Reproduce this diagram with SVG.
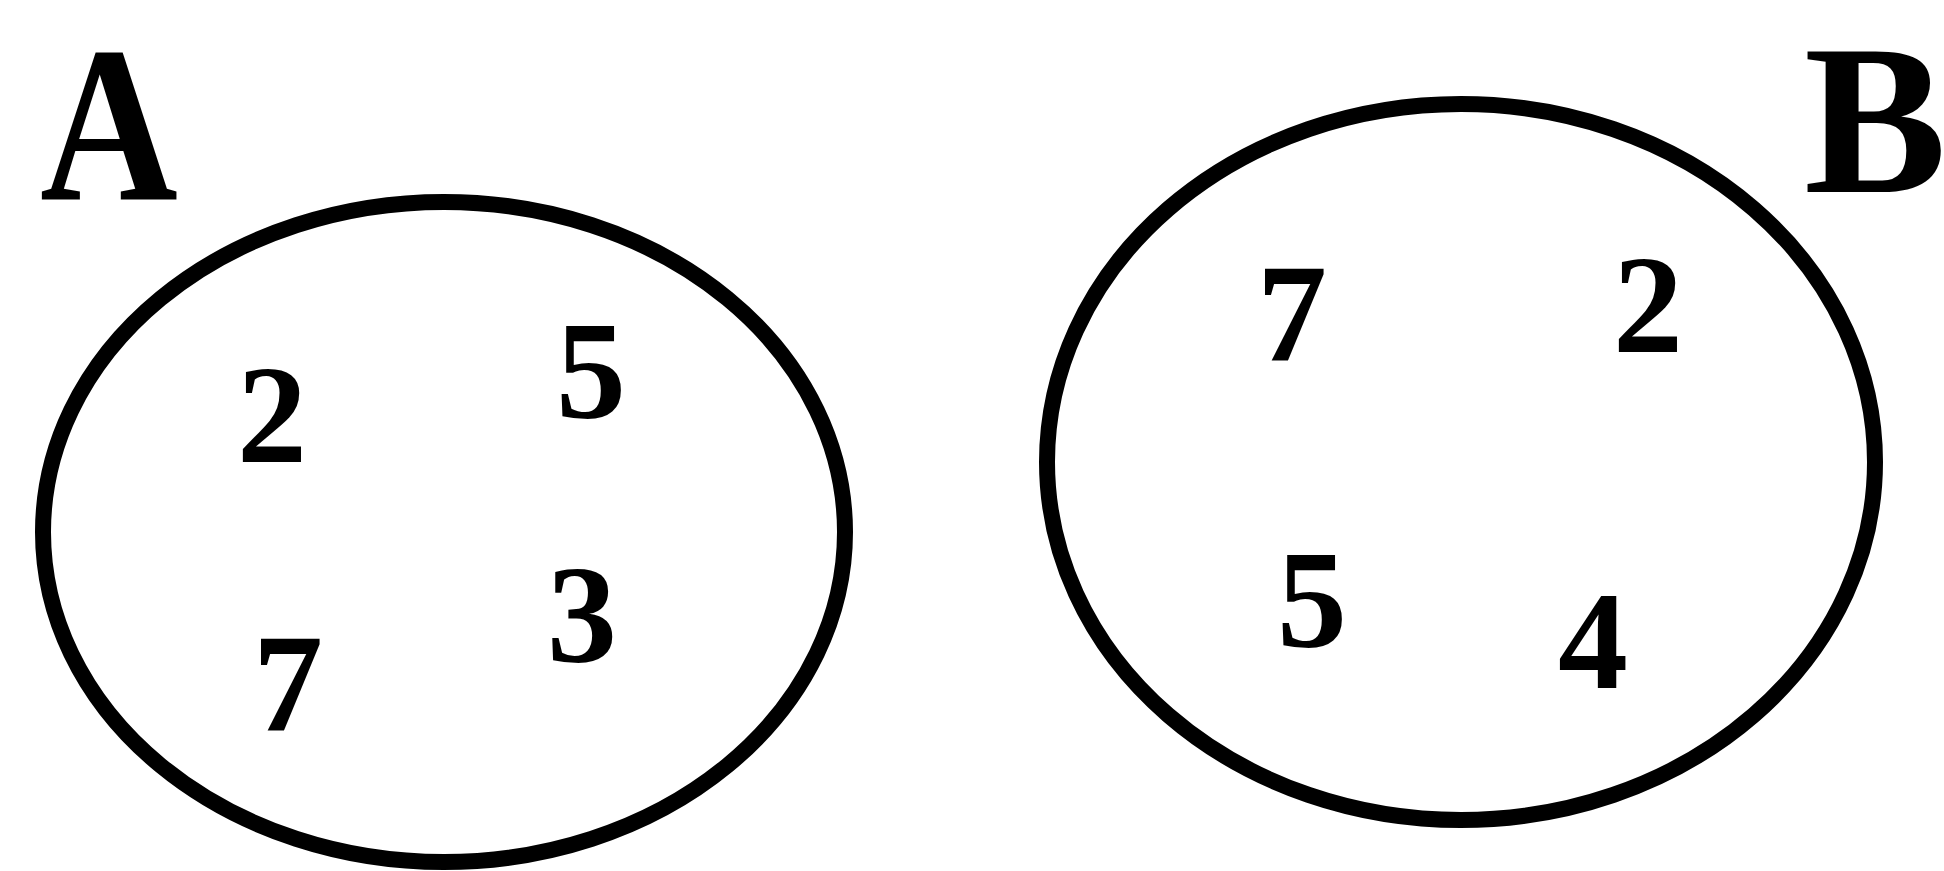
<svg xmlns="http://www.w3.org/2000/svg" width="1944" height="871" viewBox="0 0 1944 871">
<style>
.set{fill:none;stroke:#000;stroke-width:16}
.lbl{font-family:"Liberation Serif","Times New Roman",serif;font-weight:bold;fill:#000}
.num{font-family:"Liberation Serif","Times New Roman",serif;font-weight:bold;font-size:140px;fill:#000;text-anchor:middle}
</style>
<rect width="1944" height="871" fill="#fff"/>
<g id="setA">
<ellipse class="set" cx="444" cy="532" rx="401" ry="330"/>
<text class="lbl" font-size="222" transform="translate(40,200) scale(0.86,1)">A</text>
<text class="num" x="272" y="462">2</text>
<text class="num" x="591" y="418">5</text>
<text class="num" x="288" y="730">7</text>
<text class="num" x="582" y="662">3</text>
</g>
<g id="setB">
<ellipse class="set" cx="1461" cy="462" rx="414" ry="358"/>
<text class="lbl" font-size="214" x="1804" y="192">B</text>
<text class="num" x="1292" y="360">7</text>
<text class="num" x="1648" y="352">2</text>
<text class="num" x="1312" y="647">5</text>
<text class="num" x="1593" y="688">4</text>
</g>
<g id="connectors"></g>
</svg>
